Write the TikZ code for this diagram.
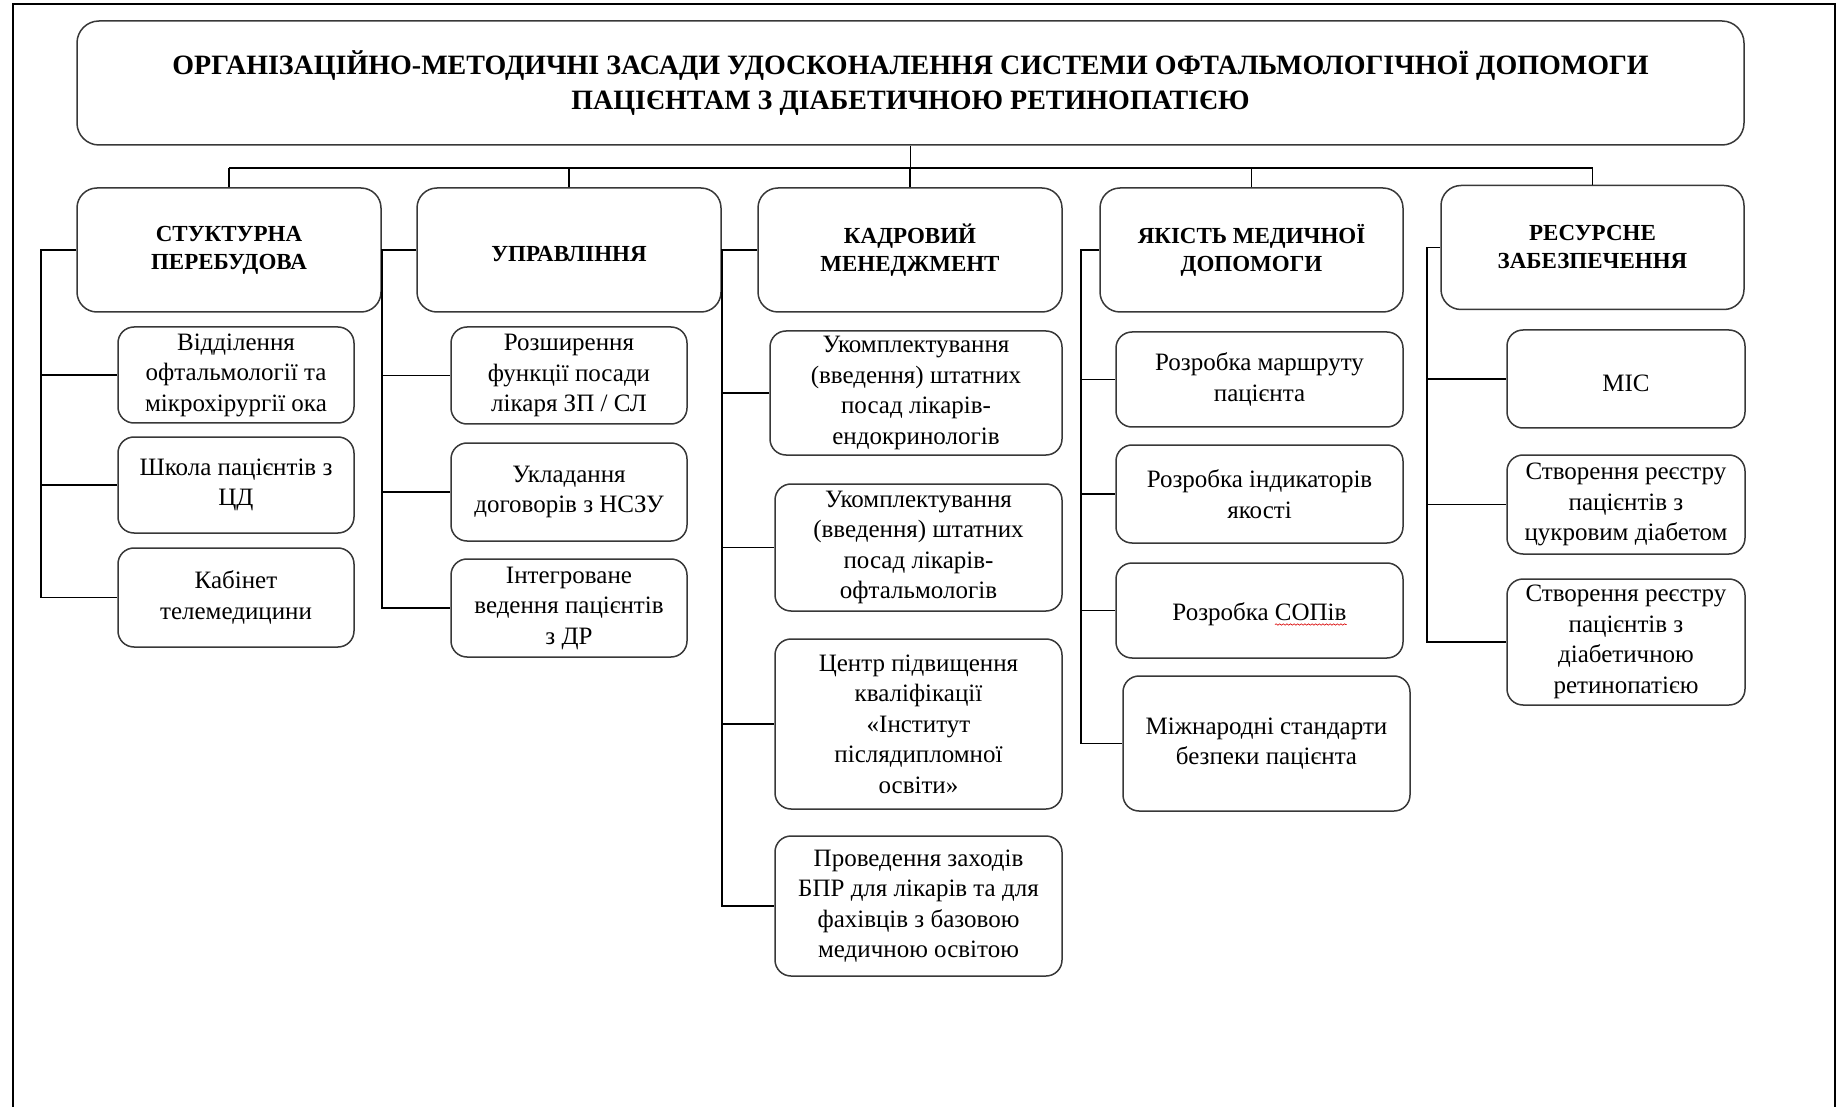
\documentclass[tikz,border=0pt]{standalone}
\usepackage{fontspec}
\setmainfont{Liberation Serif}
\usetikzlibrary{decorations.pathmorphing}
\newlength\sopall
\newlength\sopword
\tikzset{
  boxbase/.style={draw=black!78,line width=0.75pt,align=center,inner sep=0pt,fill=white},
  titlebox/.style={boxbase,rounded corners=11pt,font={\fontsize{14}{17.5}\selectfont\bfseries}},
  catbox/.style={boxbase,rounded corners=10pt,font={\fontsize{11.5}{14}\selectfont\bfseries},execute at begin node={\rule{0pt}{11.6pt}}},
  childbox/.style={boxbase,rounded corners=8pt,font={\fontsize{12.5}{15.25}\selectfont},execute at begin node={\rule{0pt}{12.2pt}}},
  conn/.style={draw=black,line width=0.6pt},
  frame/.style={draw=black,line width=1pt},
  spellwave/.style={draw=red!85!black,line width=0.3pt,decorate,decoration={snake,amplitude=0.35pt,segment length=1.8pt}}
}
\begin{document}
\settowidth{\sopall}{\fontsize{12.5}{15.25}\selectfont Розробка СОПів}%
\settowidth{\sopword}{\fontsize{12.5}{15.25}\selectfont СОПів}%
\begin{tikzpicture}[x=0.5pt,y=-0.5pt]
\useasboundingbox (0,0) rectangle (1838,1107);
\draw[frame] (13,1107) -- (13,4) -- (1835,4) -- (1835,1107);

% title
\node[titlebox,minimum width=833.5pt,minimum height=62pt] (title) at (910.5,83)
  {ОРГАНІЗАЦІЙНО-МЕТОДИЧНІ ЗАСАДИ УДОСКОНАЛЕННЯ СИСТЕМИ ОФТАЛЬМОЛОГІЧНОЇ ДОПОМОГИ\\ПАЦІЄНТАМ З ДІАБЕТИЧНОЮ РЕТИНОПАТІЄЮ};

% categories
\node[catbox,minimum width=152pt,minimum height=62pt] (c1) at (229,250) {СТУКТУРНА\\ПЕРЕБУДОВА};
\node[catbox,minimum width=152pt,minimum height=62pt] (c2) at (569,250) {УПРАВЛІННЯ};
\node[catbox,minimum width=152pt,minimum height=62pt] (c3) at (910,250) {КАДРОВИЙ\\МЕНЕДЖМЕНТ};
\node[catbox,minimum width=151.5pt,minimum height=62pt] (c4) at (1251.5,250) {ЯКІСТЬ МЕДИЧНОЇ\\ДОПОМОГИ};
\node[catbox,minimum width=151.5pt,minimum height=62pt] (c5) at (1592.5,247.5) {РЕСУРСНЕ\\ЗАБЕЗПЕЧЕННЯ};

% children
\node[childbox,minimum width=118pt,minimum height=48pt] (k11) at (236,375) {Відділення\\офтальмології та\\мікрохірургії ока};
\node[childbox,minimum width=118pt,minimum height=48pt] (k12) at (236,485) {Школа пацієнтів з\\ЦД};
\node[childbox,minimum width=118pt,minimum height=49.5pt] (k13) at (236,597.5) {Кабінет\\телемедицини};

\node[childbox,minimum width=118pt,minimum height=48.5pt] (k21) at (569,375.5) {Розширення\\функції посади\\лікаря ЗП / СЛ};
\node[childbox,minimum width=118pt,minimum height=49pt] (k22) at (569,492) {Укладання\\договорів з НСЗУ};
\node[childbox,minimum width=118pt,minimum height=49pt] (k23) at (569,608) {Інтегроване\\ведення пацієнтів\\з ДР};

\node[childbox,minimum width=146pt,minimum height=62pt] (k31) at (916,393) {Укомплектування\\(введення) штатних\\посад лікарів-\\ендокринологів};
\node[childbox,minimum width=143.5pt,minimum height=63.5pt] (k32) at (918.5,547.5) {Укомплектування\\(введення) штатних\\посад лікарів-\\офтальмологів};
\node[childbox,minimum width=143.5pt,minimum height=85pt] (k33) at (918.5,724) {Центр підвищення\\кваліфікації\\«Інститут\\післядипломної\\освіти»};
\node[childbox,minimum width=143.5pt,minimum height=70pt] (k34) at (918.5,906) {Проведення заходів\\БПР для лікарів та для\\фахівців з базовою\\медичною освітою};

\node[childbox,minimum width=143.5pt,minimum height=47.5pt] (k41) at (1259.5,379.5) {Розробка маршруту\\пацієнта};
\node[childbox,minimum width=143.5pt,minimum height=49pt] (k42) at (1259.5,494) {Розробка індикаторів\\якості};
\node[childbox,minimum width=143.5pt,minimum height=47.5pt] (k43) at (1259.5,610.5) {Розробка СОПів};
\node[childbox,minimum width=143.5pt,minimum height=67.5pt] (k44) at (1266.5,743.5) {Міжнародні стандарти\\безпеки пацієнта};

\node[childbox,minimum width=119pt,minimum height=49pt] (k51) at (1626,379) {МІС};
\node[childbox,minimum width=119pt,minimum height=49.5pt] (k52) at (1626,504.5) {Створення реєстру\\пацієнтів з\\цукровим діабетом};
\node[childbox,minimum width=119pt,minimum height=63pt] (k53) at (1626,642) {Створення реєстру\\пацієнтів з\\діабетичною\\ретинопатією};

% spell-check wavy underline under "СОПів"
\draw[spellwave] ([xshift={0.5\sopall-\sopword},yshift=-7pt]k43.center) -- ([xshift={0.5\sopall},yshift=-7pt]k43.center);

% bus coordinates
\coordinate (hb) at (0,168);
\coordinate (b1) at (41,0);
\coordinate (b2) at (382,0);
\coordinate (b3) at (722,0);
\coordinate (b4) at (1081,0);
\coordinate (b5) at (1427,0);

% top tree
\draw[conn] (title.south) -- (title.south |- hb);
\draw[conn] (c1.north |- hb) -- (c5.north |- hb);
\foreach \c in {c1,c2,c3,c4,c5} \draw[conn] (\c.north |- hb) -- (\c.north);

% category 1
\draw[conn] (c1.west) -- (c1.west -| b1) |- (k13.west);
\draw[conn] (k11.west -| b1) -- (k11.west);
\draw[conn] (k12.west -| b1) -- (k12.west);
% category 2
\draw[conn] (c2.west) -- (c2.west -| b2) |- (k23.west);
\draw[conn] (k21.west -| b2) -- (k21.west);
\draw[conn] (k22.west -| b2) -- (k22.west);
% category 3
\draw[conn] (c3.west) -- (c3.west -| b3) |- (k34.west);
\draw[conn] (k31.west -| b3) -- (k31.west);
\draw[conn] (k32.west -| b3) -- (k32.west);
\draw[conn] (k33.west -| b3) -- (k33.west);
% category 4
\draw[conn] (c4.west) -- (c4.west -| b4) |- (k44.west);
\draw[conn] (k41.west -| b4) -- (k41.west);
\draw[conn] (k42.west -| b4) -- (k42.west);
\draw[conn] (k43.west -| b4) -- (k43.west);
% category 5
\draw[conn] (c5.west) -- (c5.west -| b5) |- (k53.west);
\draw[conn] (k51.west -| b5) -- (k51.west);
\draw[conn] (k52.west -| b5) -- (k52.west);
\end{tikzpicture}
\end{document}
